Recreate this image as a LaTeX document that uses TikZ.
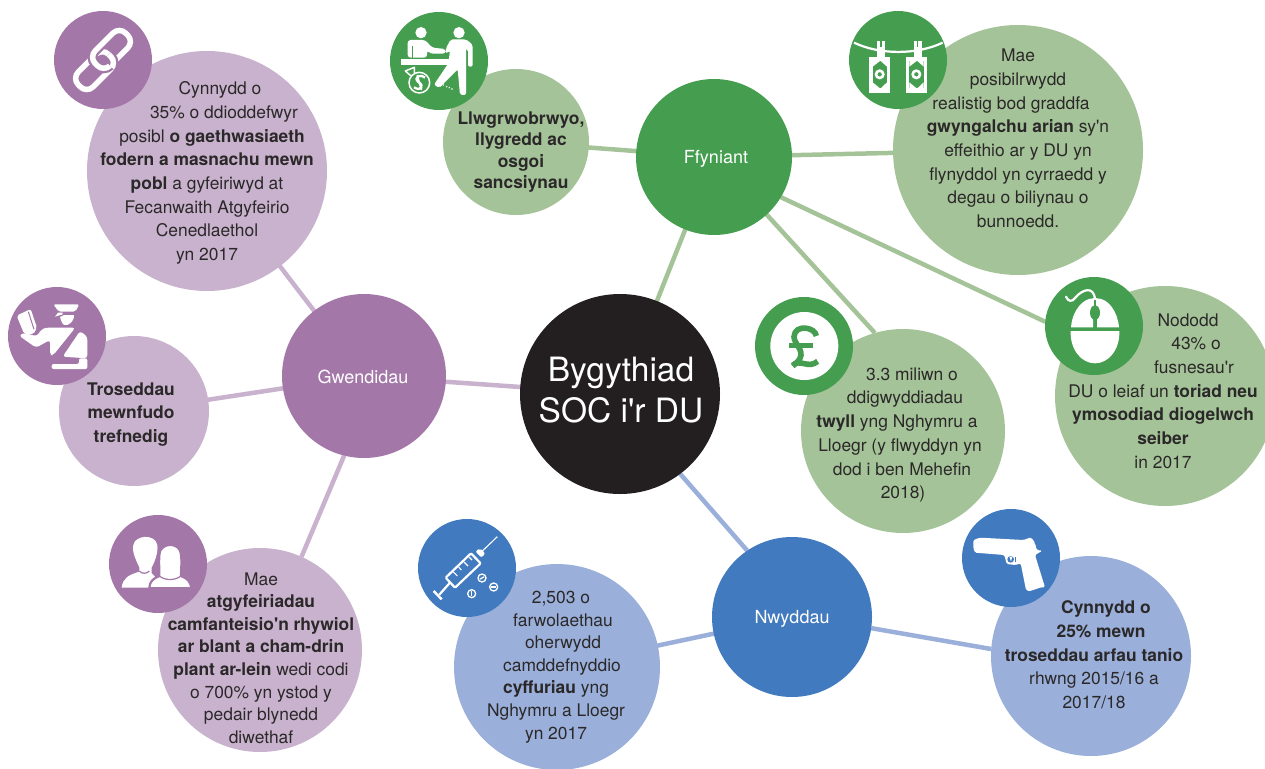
\documentclass[tikz,border=0pt]{standalone}
\usepackage{fontspec}
\defaultfontfeatures[\rmfamily]{}
\setmainfont{TeX Gyre Heros}
\usetikzlibrary{backgrounds}
\definecolor{ink}{HTML}{2B2829}
\definecolor{blk}{HTML}{231F20}
\definecolor{pur}{HTML}{A377A8}
\definecolor{purl}{HTML}{C9B2CD}
\definecolor{grn}{HTML}{459E4F}
\definecolor{grnl}{HTML}{A5C398}
\definecolor{blu}{HTML}{417ABF}
\definecolor{blul}{HTML}{9AAFD9}
\newcommand{\sh}[1]{\hspace*{#1pt}}
\tikzset{
  bub/.style={circle,inner sep=0pt,outer sep=0pt,minimum size=#1},
  leafp/.style={bub=#1,fill=purl},
  leafg/.style={bub=#1,fill=grnl},
  leafb/.style={bub=#1,fill=blul},
  iconp/.style={bub=98pt,fill=pur},
  icong/.style={bub=98pt,fill=grn},
  iconb/.style={bub=98pt,fill=blu},
  hubtext/.style={text=white,font=\fontsize{18}{22}\selectfont},
  body/.style={align=center,text=ink,inner sep=0pt,font=\fontsize{17.4}{23.7}\selectfont},
  linkp/.style={draw=purl,line width=4.5pt},
  linkg/.style={draw=grnl,line width=4.5pt},
  linkb/.style={draw=blul,line width=4.5pt},
}
\begin{document}
\begin{tikzpicture}[x=1pt,y=-1pt]
\useasboundingbox (0,0) rectangle (1265,768);
% ---------- leaf bubbles
\node[leafp=240pt] (vict) at (207,171) {};
\node[leafp=150pt] (immi) at (134,411) {};
\node[leafp=204pt] (abuse) at (260,650) {};
\node[leafg=146pt] (brib) at (516,142) {};
\node[leafg=250pt] (laund) at (1018,150) {};
\node[leafg=204pt] (fraud) at (903,431) {};
\node[leafg=220pt] (cyber) at (1165,396) {};
\node[leafb=206pt] (drugs) at (557,667) {};
\node[leafb=200pt] (guns) at (1091,656) {};
% ---------- hubs
\node[bub=200pt,fill=blk] (main) at (620,394) {};
\node[bub=156pt,fill=grn] (ffy) at (714,157) {};
\node[bub=164pt,fill=pur] (gwe) at (364,376) {};
\node[bub=160pt,fill=blu] (nwy) at (792,617) {};
\node[text=white,align=center,inner sep=0pt,font=\fontsize{33.5}{41}\selectfont] (maintx) at (621,390) {Bygythiad\\SOC i'r DU};
\node[hubtext] (ffytx) at (716,159) {Ffyniant};
\node[hubtext] (gwetx) at (363,377) {Gwendidau};
\node[hubtext] (nwytx) at (792,619) {Nwyddau};
% ---------- icon discs
\node[iconp] (ichain) at (103,60) {};
\node[iconp] (iofficer) at (57,336) {};
\node[iconp] (ipeople) at (158,564) {};
\node[icong] (ibrib) at (439,61) {};
\node[icong] (imoney) at (898,60) {};
\node[icong] (ipound) at (804,346) {};
\node[icong] (imouse) at (1094,326) {};
\node[iconb] (isyr) at (467,568) {};
\node[iconb] (igun) at (1011,558) {};
% ---------- connectors
\begin{pgfonlayer}{background}
\draw[linkg] (main.center) -- (ffy.center);
\draw[linkp] (main.center) -- (gwe.center);
\draw[linkb] (main.-53) -- (nwy.124);
\draw[linkg] (ffy.center) -- (brib.center);
\draw[linkg] (ffy.center) -- (laund.center);
\draw[linkg] (ffy.center) -- (fraud.106);
\draw[linkg] (ffy.-31) -- (imouse.175);
\draw[linkp] (gwe.center) -- (vict.center);
\draw[linkp] (gwe.center) -- (immi.center);
\draw[linkp] (gwe.-104) -- (abuse.66);
\draw[linkb] (nwy.center) -- (drugs.center);
\draw[linkb] (nwy.-8) -- (guns.176);
\end{pgfonlayer}
% ---------- texts
\node[body] (t1) at (207,173) {\sh{26}Cynnydd o\\\sh{34}35\% o ddioddefwyr\\\sh{10}posibl \textbf{o gaethwasiaeth}\\\textbf{fodern a masnachu mewn}\\\textbf{pobl} a gyfeiriwyd at\\Fecanwaith Atgyfeirio\\Cenedlaethol\\yn 2017};
\node[body,font=\bfseries\fontsize{17.4}{23.6}\selectfont] (t2) at (131,414.5) {Troseddau\\mewnfudo\\trefnedig};
\node[body,font=\fontsize{17.4}{22.6}\selectfont] (t3) at (261,658) {Mae\\\textbf{atgyfeiriadau}\\\textbf{camfanteisio'n rhywiol}\\\textbf{ar blant a cham-drin}\\\textbf{plant ar-lein} wedi codi\\o 700\% yn ystod y\\pedair blynedd\\diwethaf};
\node[body,font=\bfseries\fontsize{17.4}{21.3}\selectfont] (t4) at (521,152) {Llwgrwobrwyo,\\llygredd ac\\osgoi\\sancsiynau};
\node[body] (t5) at (1018,138.5) {Mae\\posibilrwydd\\\sh{-14}realistig bod graddfa\\\textbf{gwyngalchu arian} sy'n\\effeithio ar y DU yn\\flynyddol yn cyrraedd y\\degau o biliynau o\\bunnoedd.};
\node[body] (t6) at (900,435) {\sh{24}3.3 miliwn o\\\sh{10}ddigwyddiadau\\\sh{-6}\textbf{twyll} yng Nghymru a\\Lloegr (y flwyddyn yn\\\sh{4}dod i ben Mehefin\\\sh{6}2018)};
\node[body] (t7) at (1163,391) {\sh{50}Nododd\\\sh{66}43\% o\\\sh{62}fusnesau'r\\DU o leiaf un \textbf{toriad neu}\\\textbf{ymosodiad diogelwch}\\\textbf{seiber}\\in 2017};
\node[body,font=\fontsize{17.4}{22.6}\selectfont] (t8) at (559,667) {\sh{4}2,503 o\\\sh{8}farwolaethau\\\sh{8}oherwydd\\\sh{6}camddefnyddio\\\sh{-6}\textbf{cyffuriau} yng\\\sh{-6}Nghymru a Lloegr\\\sh{-6}yn 2017};
\node[body] (t9) at (1094,655) {\sh{24}\textbf{Cynnydd o}\\\sh{14}\textbf{25\% mewn}\\\textbf{troseddau arfau tanio}\\rhwng 2015/16 a\\2017/18};
% ---------- chain icon
\begin{scope}[shift={(103,60)},rotate=45]
 \draw[white,line width=5.5pt,rounded corners=9pt] (-35,-9) rectangle (8,12);
 \draw[pur,line width=10pt,rounded corners=9pt] (-8,-12) rectangle (35,9);
 \draw[white,line width=5.5pt,rounded corners=9pt] (-8,-12) rectangle (35,9);
 \begin{scope}
  \clip (1,0) rectangle (20,20);
  \draw[pur,line width=10pt,rounded corners=9pt] (-35,-9) rectangle (8,12);
  \draw[white,line width=5.5pt,rounded corners=9pt] (-35,-9) rectangle (8,12);
 \end{scope}
\end{scope}
% ---------- bribery icon
\begin{scope}[shift={(380,10)},scale=1/3]
 \fill[white] (62,147) rectangle (208,165);
 \fill[white] (123,68) circle (17);
 \fill[white] (237,68) circle (17);
 \fill[white,rounded corners=3pt] (83,143) -- (83,90) -- (136,90) -- (156,113) -- (197,117) -- (197,131) -- (150,131) -- (141,120) -- (141,143) -- cycle;
 \draw[grn,line width=1.6pt] (97,108) -- (97,147);
 \fill[white,rounded corners=2pt] (212,88) -- (258,88) -- (278,104) -- (278,170) -- (264,170) -- (264,118) -- (258,115) -- (258,255) -- (240,255) -- (233,178) -- (178,234) -- (162,224) -- (205,160) -- (210,122) -- (197,131) -- (197,117) -- cycle;
 \draw[white,line width=1.5pt] (118,218) circle (31);
 \draw[white,line width=1.5pt,line join=round] (92,197) -- (76,183) -- (103,172) -- (103,190);
 \draw[white,line width=2.3pt] (135,203) .. controls (118,190) and (100,203) .. (115,216) .. controls (135,228) and (122,245) .. (102,232);
 \draw[white,line width=1.6pt] (112,195) -- (124,240);
 \fill[white] (190,225) circle (2.5) (200,230) circle (2.5) (208,233) circle (2.5) (216,237) circle (2.5);
\end{scope}
% ---------- money icon
\begin{scope}[shift={(840,5)},scale=1/3]
 \draw[white,line width=2.2pt] (42,113) .. controls (120,150) and (230,150) .. (308,113);
 \foreach \dx in {0,110}{
 \begin{scope}[shift={(\dx,0)}]
  \fill[white] (112,108) rectangle (135,155);
  \draw[grn,line width=1.1pt] (123,108) -- (123,125);
  \fill[white] (88,155) rectangle (150,263);
  \fill[grn] (98,168) rectangle (141,250);
  \fill[white] (98,168) -- (120,168) -- (98,185) -- cycle;
  \fill[white] (141,168) -- (122,168) -- (141,185) -- cycle;
  \fill[white] (98,250) -- (120,250) -- (98,232) -- cycle;
  \fill[white] (141,250) -- (122,250) -- (141,232) -- cycle;
  \draw[white,line width=2.6pt] (119,208) circle (11);
 \end{scope}}
\end{scope}
% ---------- pound icon
\begin{scope}[shift={(745,290)},scale=1/3]
 \fill[white] (178,168) circle (102);
 \draw[grn,line width=5.6pt] (214,138) .. controls (212,112) and (150,100) .. (147,140) .. controls (146,160) and (178,180) .. (165,205) .. controls (160,215) and (150,222) .. (143,228);
 \draw[grn,line width=5.6pt] (133,167) -- (205,167);
 \draw[grn,line width=5.6pt] (143,226) .. controls (165,205) and (190,238) .. (218,214);
\end{scope}
% ---------- mouse icon
\begin{scope}[shift={(1035,270)},scale=1/3]
 \fill[white] (108,172) .. controls (112,120) and (145,85) .. (174,85) -- (174,172) -- cycle;
 \fill[white] (186,85) .. controls (220,85) and (248,125) .. (252,172) -- (186,172) -- cycle;
 \fill[white] (174,85) rectangle (186,110);
 \fill[white] (107,183) -- (253,183) .. controls (255,240) and (220,280) .. (180,280) .. controls (140,280) and (105,240) .. (107,183) -- cycle;
 \draw[grn,line width=1.6pt] (180,85) -- (180,172);
 \fill[grn] (180,128) ellipse (15 and 22);
 \draw[white,line width=2.2pt,line cap=round] (180,88) .. controls (176,45) and (140,60) .. (122,82) .. controls (110,98) and (100,95) .. (93,80);
\end{scope}
% ---------- officer icon
\begin{scope}[shift={(0,295)},scale=1/3]
 \fill[white,rounded corners=2pt] (50,62) -- (92,42) -- (111,98) -- (100,118) -- (72,116) -- cycle;
 \draw[pur,line width=1pt] (85,50) -- (102,103);
 \fill[white,rounded corners=3pt] (57,122) -- (72,113) -- (110,124) -- (124,104) -- (137,98) -- (226,98) -- (160,180) -- (150,180) -- (150,135) -- (108,158) -- cycle;
 \fill[white,rounded corners=3pt] (188,185) -- (240,108) -- (262,125) -- (262,190) -- cycle;
 \fill[white,rounded corners=2pt] (155,207) -- (237,207) -- (237,190) -- (262,190) -- (262,222) -- (155,222) -- cycle;
 \fill[white,rounded corners=2pt] (160,28) -- (238,28) -- (226,50) -- (176,50) -- cycle;
 \fill[white] (165,65) -- (188,58) -- (188,53) -- (174,53) -- cycle;
 \fill[white] (192,60) -- (222,60) .. controls (222,82) and (205,93) .. (192,90) .. controls (185,85) and (182,72) .. (180,66) -- cycle;
\end{scope}
% ---------- people icon
\begin{scope}[shift={(100,510)},scale=1/3]
 \fill[white] (118,172) .. controls (108,150) and (95,125) .. (100,105) .. controls (105,75) and (165,70) .. (172,105) .. controls (175,125) and (165,155) .. (155,172) -- (155,190) -- (165,200) -- (145,233) -- (65,233) .. controls (68,205) and (85,195) .. (118,185) -- cycle;
 \draw[pur,line width=2.2pt,fill=white] (148,235) .. controls (148,215) and (160,205) .. (178,198) .. controls (178,170) and (175,130) .. (182,120) .. controls (195,100) and (225,100) .. (238,118) .. controls (248,135) and (243,175) .. (243,198) .. controls (262,205) and (272,215) .. (274,235) -- cycle;
 \draw[pur,line width=1.2pt] (178,198) .. controls (195,212) and (225,212) .. (243,198);
 \draw[pur,line width=1.2pt] (118,183) .. controls (125,192) and (140,192) .. (148,183);
\end{scope}
% ---------- syringe icon
\begin{scope}[shift={(410,510)},scale=1/3]
 \draw[white,line width=1.1pt] (262,80) -- (215,125);
 \fill[white,rounded corners=2pt] (196,124) -- (210,115) -- (226,130) -- (214,143) -- cycle;
 \draw[white,line width=2.2pt,rounded corners=1pt,line join=round] (107,203) -- (183,130) -- (212,160) -- (135,233) -- cycle;
 \draw[white,line width=1.1pt] (130,186) -- (142,198) (146,171) -- (154,180) (162,156) -- (174,168) (178,142) -- (186,150);
 \draw[white,line width=2.2pt] (120,218) -- (88,254);
 \draw[white,line width=2.4pt] (71,243) -- (95,268);
 \foreach \px/\py/\ang in {216/204/-30,251/231/0,185/251/90}{
  \draw[white,line width=1.3pt] (\px,\py) circle (12);
  \draw[white,line width=1.3pt] (\px,\py) ++(\ang:7) -- ++(\ang+180:14);
 }
\end{scope}
% ---------- gun icon
\begin{scope}[shift={(955,500)},scale=1/3]
 \fill[white,rounded corners=1.5pt] (55,120) -- (75,113) -- (205,120) -- (228,112) -- (240,128) -- (245,150) -- (262,152) -- (240,165) -- (270,262) -- (258,262) -- (222,274) -- (213,270) -- (197,190) -- (182,195) -- (155,192) -- (148,165) -- (60,158) -- (55,145) -- cycle;
 \fill[blu] (167,178) circle (10);
 \fill[white] (163,170) -- (172,170) -- (168,184) -- cycle;
 \draw[blu,line width=.8pt] (180,172) -- (180,185);
 \draw[blu,line width=.8pt] (243,129) circle (3);
\end{scope}
\end{tikzpicture}
\end{document}
